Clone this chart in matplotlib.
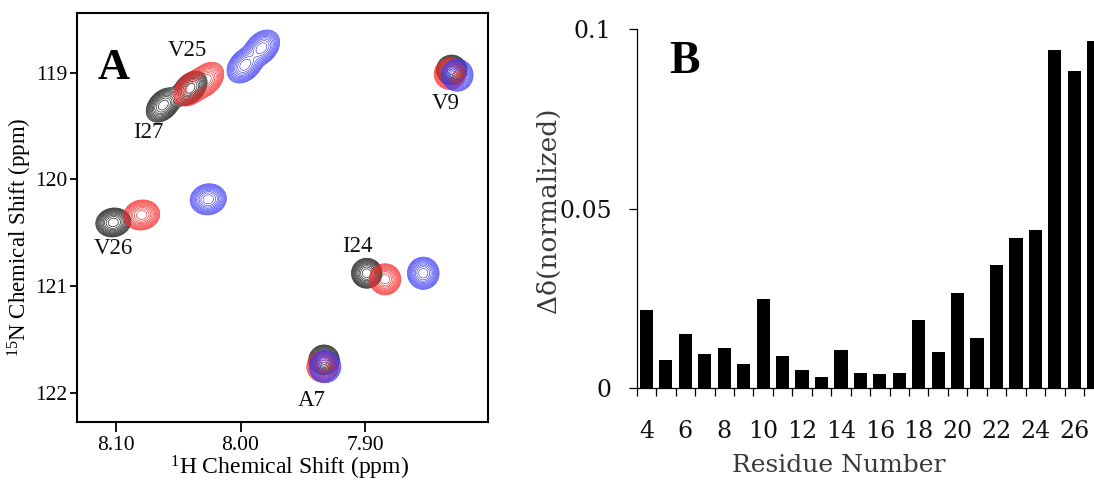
import numpy as np
import matplotlib
matplotlib.use("Agg")
import matplotlib.pyplot as plt

plt.rcParams['mathtext.fontset'] = 'custom'
plt.rcParams['mathtext.rm'] = 'Liberation Serif'
plt.rcParams['mathtext.it'] = 'Liberation Serif:italic'

# ---------------- Data ----------------
# Panel A: HSQC peak positions (1H ppm, 15N ppm) for three states
residues = ['I27', 'V25', 'V26', 'I24', 'A7', 'V9']
black_h = [8.0620, 8.0406, 8.1022, 7.8986, 7.9329, 7.8304]
black_n = [119.303, 119.146, 120.404, 120.880, 121.693, 118.975]
red_h = [8.0392, 8.0277, 8.0794, 7.8839, 7.9340, 7.8317]
red_n = [119.146, 119.068, 120.334, 120.937, 121.756, 119.012]
blue_h = [7.9964, 7.9830, 8.0259, 7.8532, 7.9321, 7.8259]
blue_n = [118.928, 118.768, 120.187, 120.880, 121.756, 119.022]
# peak elongation (major/minor) and tilt (deg) per residue
peak_elong = [1.3, 1.3, 1.15, 1.0, 1.0, 1.0]
peak_tilt = [45, 45, 10, 0, 0, 0]

label_text = ['V25', 'I27', 'V9', 'V26', 'I24', 'A7']
label_h = [8.0424, 8.0744, 7.8352, 8.1024, 7.9064, 7.9424]
label_n = [118.787, 119.565, 119.284, 120.652, 120.634, 122.077]

xticks_a = [8.10, 8.00, 7.90]
yticks_a = [119, 120, 121, 122]

# Panel B: normalized chemical shift perturbation per residue
residue_num = list(range(4, 28))
delta = [0.0217, 0.0077, 0.0150, 0.0093, 0.0110, 0.0065, 0.0248, 0.0089,
         0.0049, 0.0031, 0.0104, 0.0041, 0.0039, 0.0040, 0.0188, 0.0099,
         0.0263, 0.0140, 0.0343, 0.0417, 0.0440, 0.0943, 0.0884, 0.0968]
yticks_b = [0, 0.05, 0.1]
ytick_labels_b = ['0', '0.05', '0.1']
xtick_labels_b = [str(v) for v in range(4, 27, 2)]

# ---------------- Figure ----------------
W, H = 1094, 482
fig = plt.figure(figsize=(W / 100, H / 100), dpi=100)

def px_box(left, top, right, bottom):
    return [left / W, 1 - bottom / H, (right - left) / W, (bottom - top) / H]

# ----- Panel A -----
axA = fig.add_axes(px_box(77.3, 13, 488, 421.7))
xlimA = (8.1311, 7.8012)
ylimA = (122.272, 118.440)
gx = np.linspace(xlimA[1], xlimA[0], 800)
gy = np.linspace(ylimA[1], ylimA[0], 800)
GX, GY = np.meshgrid(gx, gy)

px_per_ppm_x = 1245.0
px_per_ppm_y = 106.67

def field(hs, ns, sx_px, sy_px):
    Z = np.zeros_like(GX)
    for h, n, el, tilt in zip(hs, ns, peak_elong, peak_tilt):
        dx = -(GX - h) * px_per_ppm_x      # screen px, right positive
        dy = -(GY - n) * px_per_ppm_y      # screen px, up positive
        a = np.deg2rad(tilt)
        u = dx * np.cos(a) + dy * np.sin(a)
        v = -dx * np.sin(a) + dy * np.cos(a)
        su = sx_px * el
        sv = sy_px / (el ** 0.3)
        Z += np.exp(-0.5 * ((u / su) ** 2 + (v / sv) ** 2))
    return Z

levels = sorted([1.38 ** (-k) for k in range(1, 13)])
for hs, ns, col, sxy in [(black_h, black_n, '#111111', (5.5, 5.4)),
                         (red_h, red_n, '#f52a2a', (5.7, 5.6)),
                         (blue_h, blue_n, '#3c3cf5', (5.7, 5.8))]:
    Z = field(hs, ns, *sxy)
    axA.contour(GX, GY, Z, levels=levels, colors=col, linewidths=0.45)

axA.set_xlim(*xlimA)
axA.set_ylim(*ylimA)
axA.set_xticks(xticks_a)
axA.set_xticklabels(['%.2f' % v for v in xticks_a])
axA.set_yticks(yticks_a)
axA.set_yticklabels([str(v) for v in yticks_a])
for s in axA.spines.values():
    s.set_linewidth(1.5)
axA.tick_params(axis='x', direction='out', length=7, width=1.3, pad=3,
                labelsize=15.5, labelfontfamily='Liberation Serif')
axA.tick_params(axis='y', direction='out', length=5, width=1.3, pad=2,
                labelsize=15.5, labelfontfamily='Liberation Serif')
for t, h, n in zip(label_text, label_h, label_n):
    axA.text(h, n, t, ha='center', va='center', fontsize=16.5,
             family='Liberation Serif', color='#111111')
axA.text(0.0876, 0.8655, 'A', transform=axA.transAxes, ha='center', va='center',
         fontsize=32, fontweight='bold', family='Liberation Serif')
fig.text(289.5 / W, 1 - 468 / H, r'$^{1}$H Chemical Shift (ppm)', ha='center',
         va='center', fontsize=17, family='Liberation Serif')
fig.text(20 / W, 1 - 237 / H, r'$^{15}$N Chemical Shift (ppm)', ha='center',
         va='center', rotation=90, fontsize=16.5, family='Liberation Serif')

# ----- Panel B -----
unit = 19.45
left_b = 636.7
axB = fig.add_axes(px_box(left_b, 29.3, left_b + 24 * unit, 387.7))
axB.bar(residue_num, delta, width=0.68, color='black', edgecolor='none')
axB.set_xlim(3.5, 27.5)
axB.set_ylim(0, 0.1)
for side in ['top', 'right']:
    axB.spines[side].set_visible(False)
for side in ['left', 'bottom']:
    axB.spines[side].set_linewidth(0.9)
axB.set_yticks(yticks_b)
axB.set_yticklabels(ytick_labels_b)
axB.set_xticks(range(4, 27, 2))
axB.set_xticklabels(xtick_labels_b)
axB.set_xticks(np.arange(3.5, 28, 1.0), minor=True)
axB.tick_params(axis='x', which='major', length=0, pad=23, labelsize=17,
                labelcolor='#111111', labelfontfamily='DejaVu Serif')
axB.tick_params(axis='x', which='minor', direction='out', length=6, width=0.9)
axB.tick_params(axis='y', direction='out', length=6, width=0.9, pad=12,
                labelsize=17, labelcolor='#111111', labelfontfamily='DejaVu Serif')
fig.text(684.5 / W, 1 - 62 / H, 'B', ha='center', va='center', fontsize=33,
         fontweight='bold', family='Liberation Serif')
fig.text(839 / W, 1 - 466 / H, 'Residue Number', ha='center', va='center',
         fontsize=18, family='DejaVu Serif', color='#3a3a3a')
fig.text(548 / W, 1 - 210 / H, 'Δδ(normalized)', ha='center', va='center',
         rotation=90, fontsize=19, family='DejaVu Serif', color='#3a3a3a')

fig.savefig('out.png', dpi=100)
